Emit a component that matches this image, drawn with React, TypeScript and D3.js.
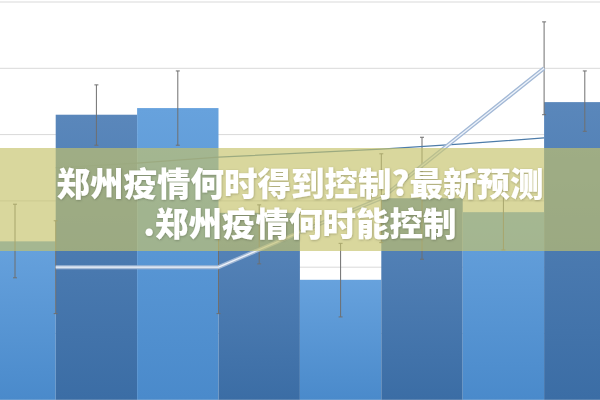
import React from "react";
import * as d3 from "d3";

// categories (the picture is a crop, so labels are not shown)
const categories = ["A", "B", "C", "D", "E", "F", "G", "H"];

// bar series, with its error bar ends
const barValues = [2.39, 4.3, 4.4, 2.82, 1.81, 3.04, 2.83, 4.49];
const barErrHigh = [2.95, 4.75, 4.96, 2.94, 2.36, 3.96, 3.27, 4.96];
const barErrLow = [1.84, 3.84, 3.84, 2.05, 1.25, 2.12, 2.26, 4.05];

// line series, drawn on the boundaries between categories
const lineThin = [3.5, 3.57, 3.66, 3.72, 3.78, 3.86, 3.95];
const lineThick = [2.0, 2.0, 2.0, 2.53, 3.04, 4.02, 5.0];
const lineThickErr = [0.7, 0, 0.7, 0, 0.67, 0, 0.7];

const yTicks = [0, 1, 2, 3, 4, 5, 6];

const titleLines = ["郑州疫情何时得到控制?最新预测", ".郑州疫情何时能控制"];

export default function App() {
  const width = 600;
  const height = 400;

  const x = d3.scaleBand<string>()
    .domain(categories)
    .range([-25.7, 625.5])
    .paddingInner(0)
    .paddingOuter(0);

  const y = d3.scaleLinear().domain([0, 6]).range([399.8, 2]);

  const edgeX = (i: number) => (x(categories[i + 1]) as number);
  const lineGen = d3.line<number>()
    .x((_, i) => edgeX(i))
    .y((d) => y(d));

  const cap = 2;

  return (
    <div style={{ position: "fixed", left: 0, top: 0, width, height, background: "#fff" }}>
      <svg width={width} height={height} style={{ display: "block" }}>
        <defs>
          <linearGradient id="gDark" x1="0" y1="0" x2="0" y2="1">
            <stop offset="0%" stopColor="#5a87bb" />
            <stop offset="100%" stopColor="#3b6da5" />
          </linearGradient>
          <linearGradient id="gLight" x1="0" y1="0" x2="0" y2="1">
            <stop offset="0%" stopColor="#67a2dd" />
            <stop offset="100%" stopColor="#4a8acb" />
          </linearGradient>
          <filter id="txtShadow" x="-5%" y="-20%" width="110%" height="140%">
            <feDropShadow dx="0.5" dy="0.8" stdDeviation="0.8" floodColor="#000" floodOpacity="0.25" />
          </filter>
        </defs>

        <rect width={width} height={height} fill="#fff" />

        {/* gridlines */}
        {yTicks.map((t) => (
          <line key={t} x1={0} x2={width} y1={y(t)} y2={y(t)} stroke="#d9d9d9" strokeWidth={1} />
        ))}

        {/* bars */}
        {barValues.map((v, i) => (
          <rect
            key={i}
            x={x(categories[i])}
            y={y(v)}
            width={x.bandwidth()}
            height={y(0) - y(v)}
            fill={i % 2 === 0 ? "url(#gLight)" : "url(#gDark)"}
          />
        ))}

        {/* bar error bars */}
        {barValues.map((_, i) => {
          const cx = (x(categories[i]) as number) + x.bandwidth() / 2;
          return (
            <g key={i} stroke="#6f6f6f" strokeWidth={1}>
              <line x1={cx} x2={cx} y1={y(barErrHigh[i])} y2={y(barErrLow[i])} />
              <line x1={cx - cap} x2={cx + cap} y1={y(barErrHigh[i])} y2={y(barErrHigh[i])} />
              <line x1={cx - cap} x2={cx + cap} y1={y(barErrLow[i])} y2={y(barErrLow[i])} />
            </g>
          );
        })}

        {/* thin line */}
        <path d={lineGen(lineThin) || ""} fill="none" stroke="#4d7ca9" strokeWidth={1.2} />

        {/* thick line error bars */}
        {lineThick.map((v, i) => {
          const e = lineThickErr[i];
          if (!e) return null;
          const cx = edgeX(i);
          return (
            <g key={i} stroke="#6f6f6f" strokeWidth={1}>
              <line x1={cx} x2={cx} y1={y(v + e)} y2={y(v - e)} />
              <line x1={cx - cap} x2={cx + cap} y1={y(v + e)} y2={y(v + e)} />
              <line x1={cx - cap} x2={cx + cap} y1={y(v - e)} y2={y(v - e)} />
            </g>
          );
        })}

        {/* thick line with a light core */}
        <path d={lineGen(lineThick) || ""} fill="none" stroke="#a3b9d6" strokeWidth={4} strokeLinejoin="round" />
        <path d={lineGen(lineThick) || ""} fill="none" stroke="#eef3fa" strokeWidth={1.3} strokeLinejoin="round" />

        {/* banner */}
        <rect x={0} y={148} width={width} height={103} fill="rgb(197,195,106)" fillOpacity={0.66} />
        <text
          textAnchor="middle"
          dominantBaseline="central"
          fill="#fff"
          fontFamily="'Noto Sans CJK SC', 'Noto Sans', sans-serif"
          fontWeight={900}
          fontSize={33.5}
          filter="url(#txtShadow)"
        >
          {titleLines.map((t, i) => (
            <tspan key={i} x={width / 2} y={181 + i * 40}>{t}</tspan>
          ))}
        </text>
      </svg>
    </div>
  );
}
